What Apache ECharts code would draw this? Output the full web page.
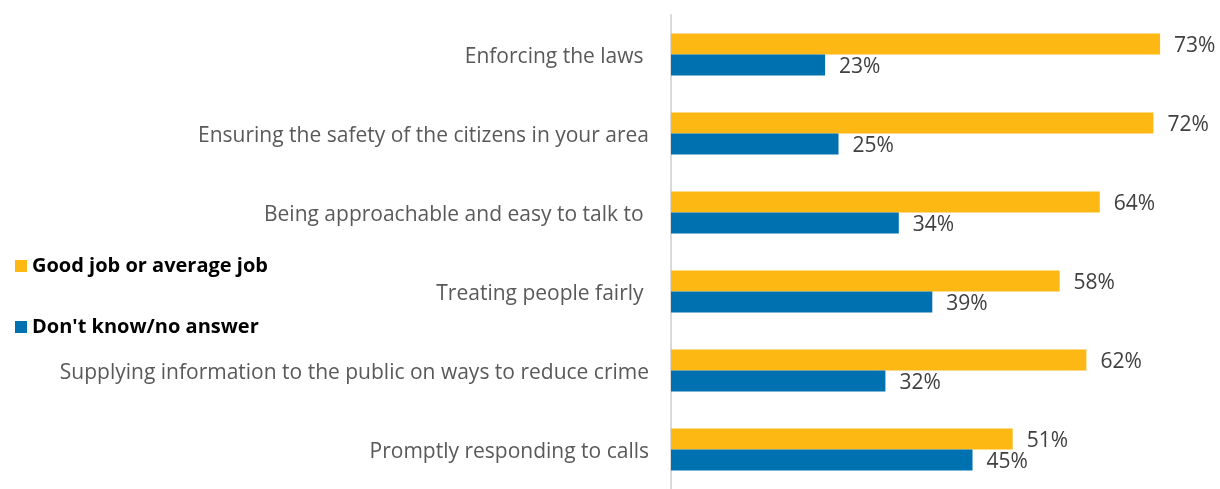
<!DOCTYPE html>
<html><head><meta charset="utf-8">
<script src="https://cdn.jsdelivr.net/npm/echarts@6/dist/echarts.min.js"></script>
<style>html,body{margin:0;padding:0;background:#fff}#c{width:1220px;height:489px}</style>
</head><body><div id="c"></div>
<script>
const categories = [
  "Enforcing the laws ",
  "Ensuring the safety of the citizens in your area",
  "Being approachable and easy to talk to ",
  "Treating people fairly ",
  "Supplying information to the public on ways to reduce crime",
  "Promptly responding to calls"
];
const goodJob = [73, 72, 64, 58, 62, 51];
const dontKnow = [23, 25, 34, 39, 32, 45];
const seriesNames = ["Good job or average job", "Don't know/no answer"];

const chart = echarts.init(document.getElementById('c'), null, {renderer: 'canvas'});
const font = '"Open Sans", sans-serif';
chart.setOption({
  animation: false,
  legend: {
    orient: 'vertical', left: 10, top: 251, itemGap: 41,
    itemWidth: 12, itemHeight: 12, icon: 'rect',
    textStyle: {fontFamily: font, fontSize: 20, fontWeight: 'bold', color: '#000'},
    data: seriesNames
  },
  grid: {left: 671, top: 15, width: 536, height: 480, containLabel: false},
  xAxis: {type: 'value', min: 0, max: 80, show: false},
  yAxis: {
    type: 'category', inverse: true, data: categories,
    axisLine: {show: true, lineStyle: {color: '#d9d9d9', width: 2}},
    axisTick: {show: false},
    axisLabel: {
      margin: 22,
      formatter: v => '{a|' + v + '}',
      rich: {a: {fontFamily: font, fontSize: 21, color: '#595959', padding: [6, 0, 0, 0]}}
    }
  },
  series: [
    {name: seriesNames[0], type: 'bar', data: goodJob, barWidth: 21, barGap: 0,
     itemStyle: {color: '#FDB813'},
     label: {show: true, position: 'right', distance: 14, formatter: '{c}%', fontFamily: font, fontSize: 21, color: '#404040', offset: [0, 2]}},
    {name: seriesNames[1], type: 'bar', data: dontKnow, barWidth: 21, barGap: 0,
     itemStyle: {color: '#0071B0'},
     label: {show: true, position: 'right', distance: 14, formatter: '{c}%', fontFamily: font, fontSize: 21, color: '#404040', offset: [0, 2]}}
  ]
});
</script></body></html>
